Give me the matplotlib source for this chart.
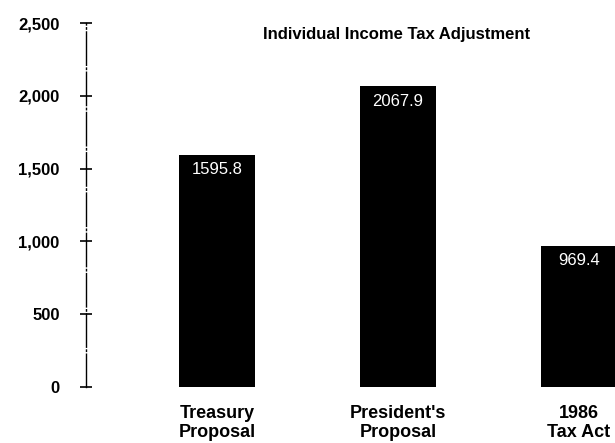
import matplotlib
matplotlib.use("Agg")
import matplotlib.pyplot as plt
import numpy as np

categories = ["Treasury\nProposal", "President's\nProposal", "1986\nTax Act"]
values = [1595.8, 2067.9, 969.4]
value_labels = ["1595.8", "2067.9", "969.4"]
yticks = [0, 500, 1000, 1500, 2000, 2500]
ytick_labels = ["0", "500", "1,000", "1,500", "2,000", "2,500"]

plt.rcParams["font.family"] = ["Liberation Sans", "DejaVu Sans"]

fig = plt.figure(figsize=(6.15, 4.43), dpi=100)
ax = fig.add_axes([0.140, 0.127, 0.860, 0.821])

x = np.arange(len(values))
bars = ax.bar(x, values, width=0.42, color="black")

for xi, v, lab in zip(x, values, value_labels):
    ax.annotate(lab, (xi, v), xytext=(0, -11), textcoords="offset points",
                ha="center", va="center", color="white", fontsize=12)

ax.set_xlim(-0.724, 2.199)
ax.set_ylim(0, 2500)
ax.set_yticks(yticks, ytick_labels, fontsize=12, fontweight="bold")
ax.set_xticks(x, categories, fontsize=13, fontweight="bold")
ax.tick_params(axis="x", length=0, pad=13)
ax.tick_params(axis="y", direction="inout", length=8, width=1.2, pad=15)

for side in ["top", "right", "bottom"]:
    ax.spines[side].set_visible(False)
ax.spines["left"].set_linestyle((0, (24, 2, 1, 2)))
ax.spines["left"].set_linewidth(1.0)

fig.text(0.645, 0.921, "Individual Income Tax Adjustment", ha="center",
         va="center", fontsize=12, fontweight="bold")

fig.savefig("out.png", dpi=100)
